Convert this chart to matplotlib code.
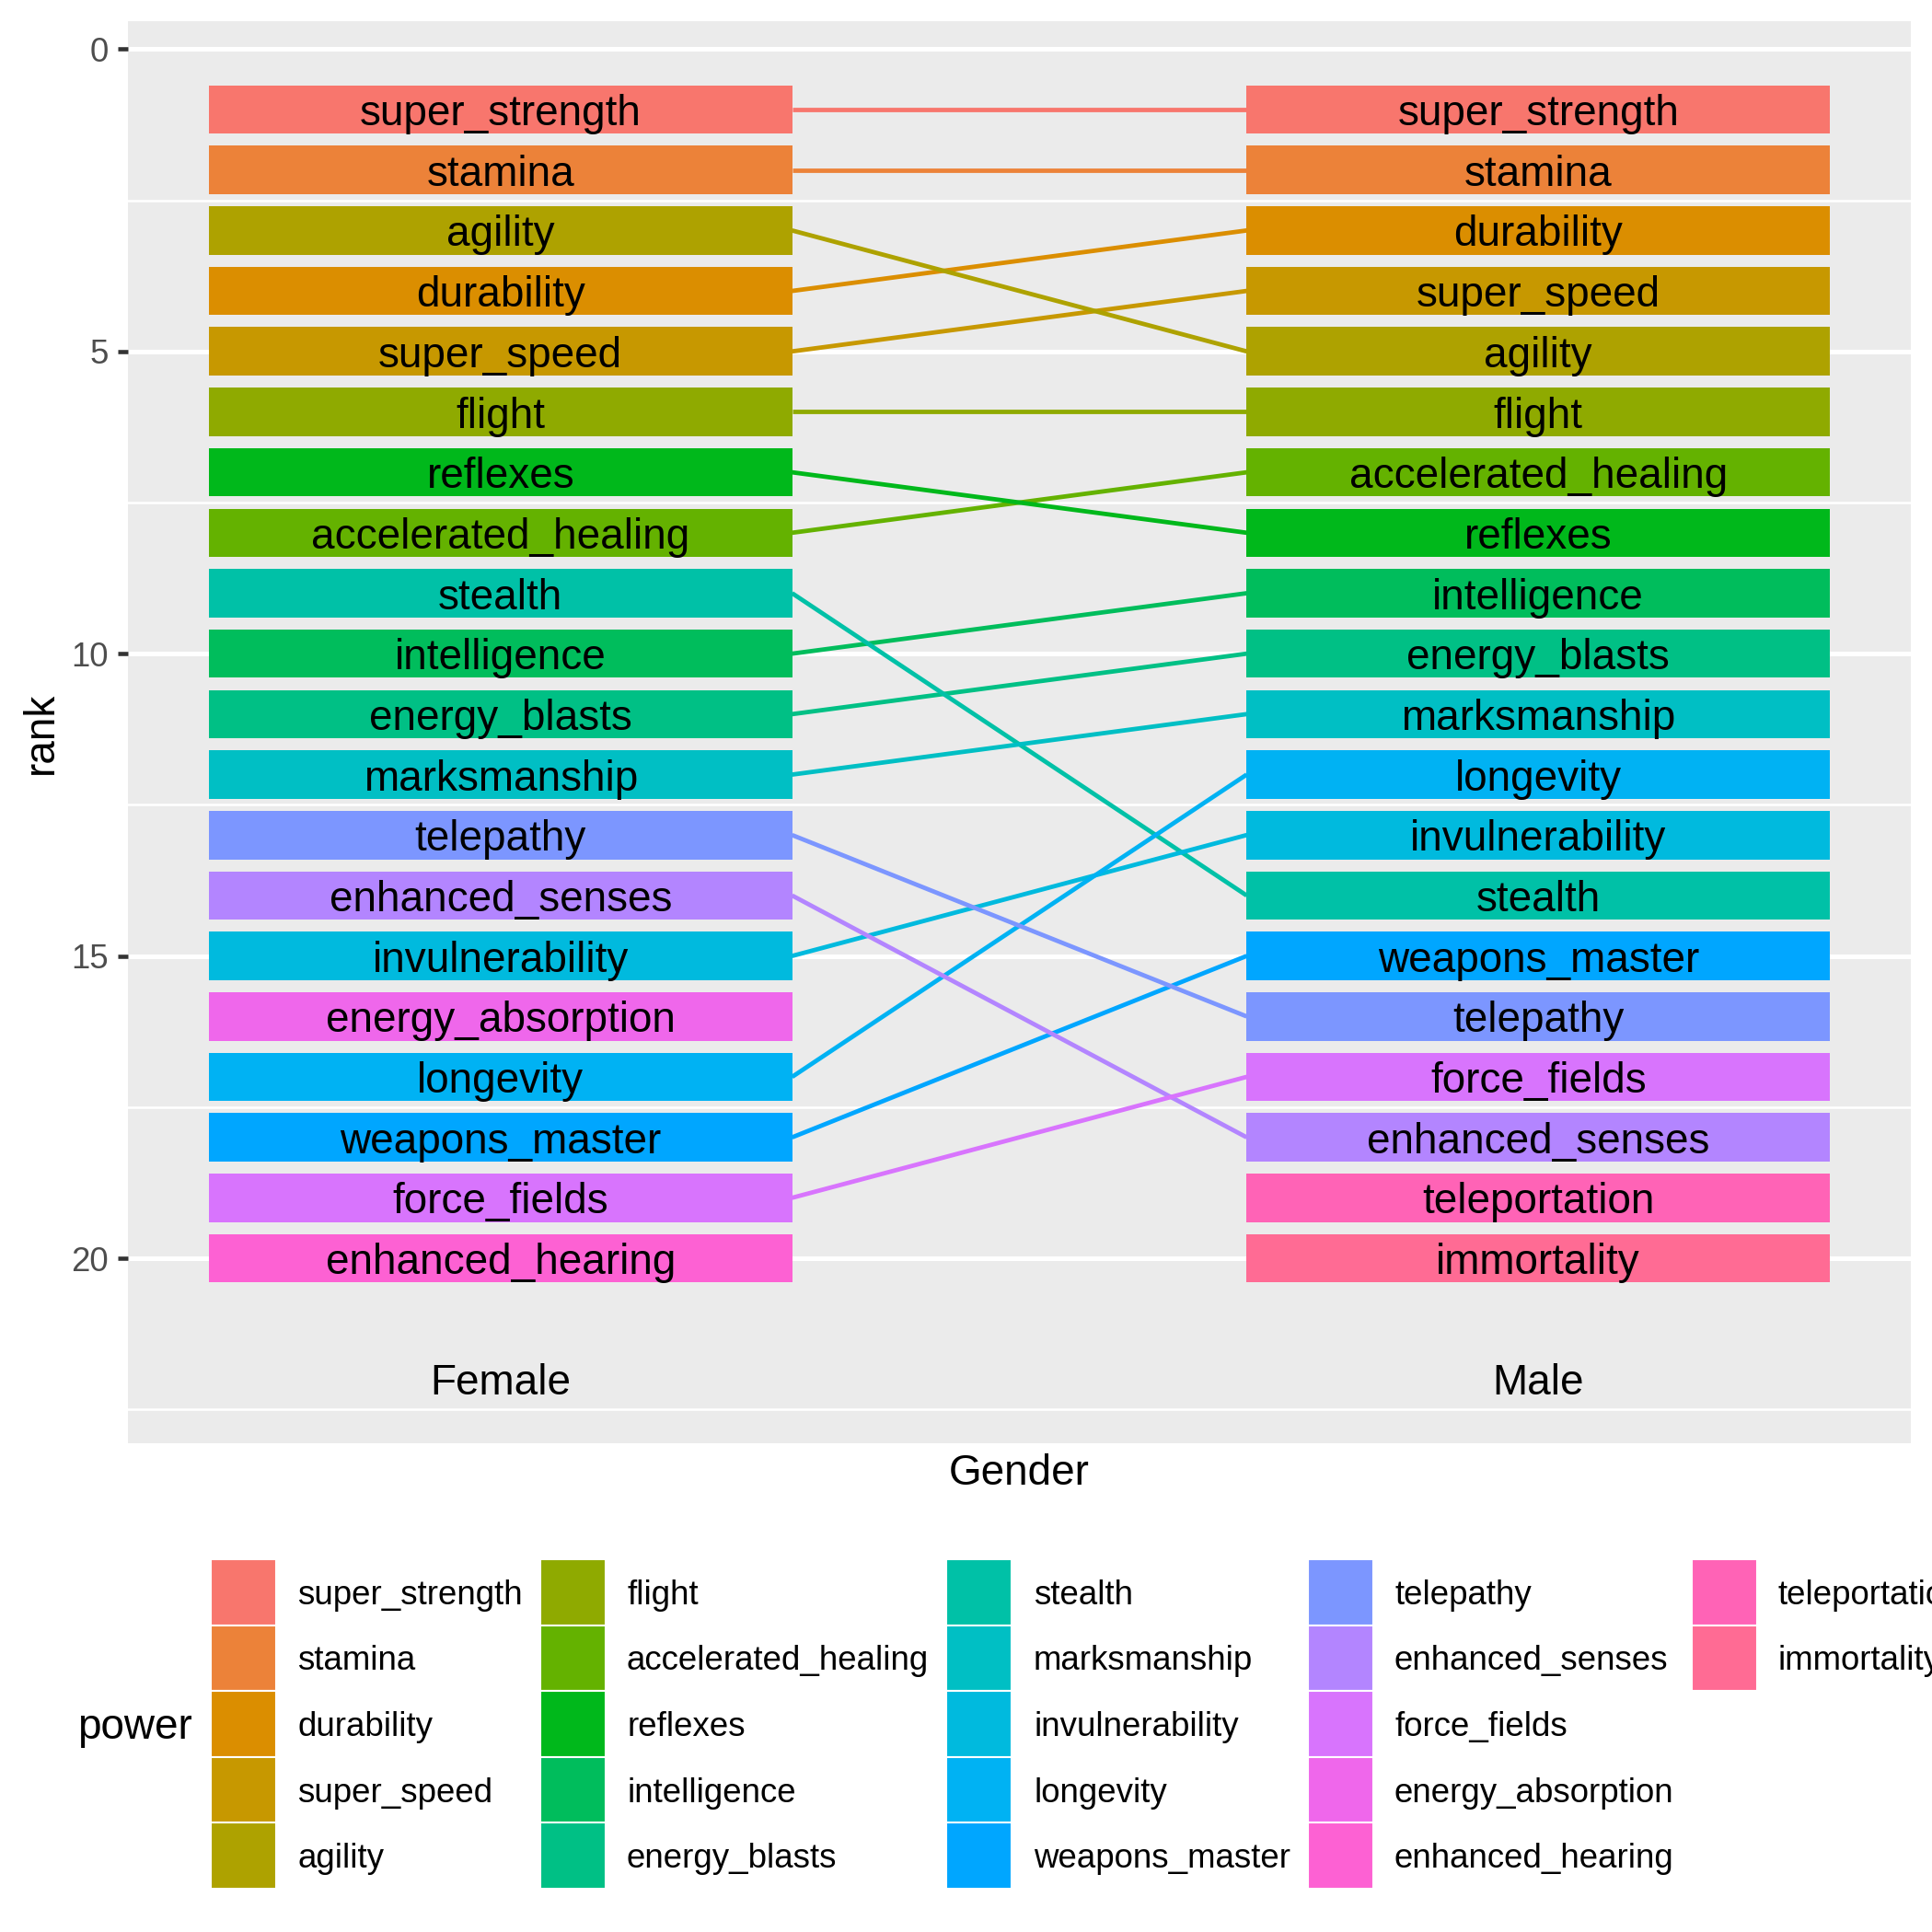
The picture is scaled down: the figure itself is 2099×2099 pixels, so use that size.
import math
import matplotlib
matplotlib.use("Agg")
import matplotlib.pyplot as plt
from matplotlib.patches import Rectangle

plt.rcParams['font.family'] = ['Liberation Sans', 'DejaVu Sans']

# ---------------- data ----------------
genders = ["Female", "Male"]
female_powers = ["super_strength", "stamina", "agility", "durability", "super_speed",
                 "flight", "reflexes", "accelerated_healing", "stealth", "intelligence",
                 "energy_blasts", "marksmanship", "telepathy", "enhanced_senses",
                 "invulnerability", "energy_absorption", "longevity", "weapons_master",
                 "force_fields", "enhanced_hearing"]
female_ranks = list(range(1, 21))
male_powers = ["super_strength", "stamina", "durability", "super_speed", "agility",
               "flight", "accelerated_healing", "reflexes", "intelligence", "energy_blasts",
               "marksmanship", "longevity", "invulnerability", "stealth", "weapons_master",
               "telepathy", "force_fields", "enhanced_senses", "teleportation", "immortality"]
male_ranks = list(range(1, 21))
# factor level order (legend order)
power_levels = ["super_strength", "stamina", "durability", "super_speed", "agility",
                "flight", "accelerated_healing", "reflexes", "intelligence", "energy_blasts",
                "stealth", "marksmanship", "invulnerability", "longevity", "weapons_master",
                "telepathy", "enhanced_senses", "force_fields", "energy_absorption",
                "enhanced_hearing", "teleportation", "immortality"]
y_ticks = [0, 5, 10, 15, 20]
label_rank = 22


# ---------------- ggplot hue palette ----------------
def hcl_hex(h, c=100.0, l=65.0):
    hr = math.radians(h)
    u = c * math.cos(hr)
    v = c * math.sin(hr)
    Y = ((l + 16.0) / 116.0) ** 3
    Xn, Yn, Zn = 0.95047, 1.0, 1.08883
    un = 4 * Xn / (Xn + 15 * Yn + 3 * Zn)
    vn = 9 * Yn / (Xn + 15 * Yn + 3 * Zn)
    up = u / (13 * l) + un
    vp = v / (13 * l) + vn
    X = Y * 9 * up / (4 * vp)
    Z = Y * (12 - 3 * up - 20 * vp) / (4 * vp)
    r = 3.2404542 * X - 1.5371385 * Y - 0.4985314 * Z
    g = -0.9692660 * X + 1.8760108 * Y + 0.0415560 * Z
    b = 0.0556434 * X - 0.2040259 * Y + 1.0572252 * Z

    def gam(t):
        t = 12.92 * t if t <= 0.0031308 else 1.055 * t ** (1 / 2.4) - 0.055
        return min(max(t, 0.0), 1.0)
    return "#%02X%02X%02X" % tuple(round(gam(t) * 255) for t in (r, g, b))


n = len(power_levels)
palette = {p: hcl_hex(15 + i * 360.0 / n) for i, p in enumerate(power_levels)}

# ---------------- figure ----------------
W = 2099
fig = plt.figure(figsize=(W / 300, W / 300), dpi=300)
fig.patch.set_facecolor("white")

px = lambda v: v / W
ax_left, ax_right, ax_top, ax_bot = 139, 2076, 23, 1568
ax = fig.add_axes([px(ax_left), 1 - px(ax_bot), px(ax_right - ax_left), px(ax_bot - ax_top)])
ax.set_facecolor("#EBEBEB")
ax.set_xlim(0.641, 2.359)
ax.set_ylim(23.06, -0.462)
for s in ax.spines.values():
    s.set_visible(False)

# grid
for yv in y_ticks:
    ax.axhline(yv, color="white", lw=1.2, zorder=0.5)
for yv in [2.5, 7.5, 12.5, 17.5, 22.5]:
    ax.axhline(yv, color="white", lw=0.6, zorder=0.5)

ax.set_xticks([])
ax.set_yticks(y_ticks)
ax.set_yticklabels([str(t) for t in y_ticks])
ax.tick_params(axis="y", length=2.75, width=1.1, color="#333333",
               labelsize=8.8, labelcolor="#4D4D4D", pad=2.4)

half_w = 0.281
bar_h = 0.8
text_off = 0.26

# connecting lines
fem = dict(zip(female_powers, female_ranks))
mal = dict(zip(male_powers, male_ranks))
for p in power_levels:
    if p in fem and p in mal:
        ax.plot([1 + half_w, 2 - half_w], [fem[p], mal[p]], color=palette[p],
                lw=1.15, solid_capstyle="butt", zorder=1)

# bars and labels
for xi, (plist, rlist) in enumerate([(female_powers, female_ranks), (male_powers, male_ranks)], start=1):
    ax.bar([xi] * len(plist), [bar_h] * len(plist), width=2 * half_w,
           bottom=[r - bar_h / 2 for r in rlist],
           color=[palette[p] for p in plist], linewidth=0, zorder=2)
    for p, r in zip(plist, rlist):
        ax.text(xi, r + text_off, p, ha="center", va="baseline", fontsize=11,
                color="black", zorder=3)
    ax.text(xi, label_rank + text_off, genders[xi - 1], ha="center", va="baseline",
            fontsize=11, color="black", zorder=3)

# overlay axes in pixel coordinates for titles and legend
ov = fig.add_axes([0, 0, 1, 1])
ov.set_xlim(0, W)
ov.set_ylim(W, 0)
ov.axis("off")
ov.patch.set_alpha(0)

ov.text((ax_left + ax_right) / 2, 1613, "Gender", ha="center", va="baseline", fontsize=11)
ov.text(57, 796, "rank", ha="center", va="baseline", rotation=90,
        fontsize=11, rotation_mode="anchor")

# legend
ov.text(84, 1889, "power", ha="left", va="baseline", fontsize=11)
key_x = [229, 587, 1028, 1421, 1838]
text_x = [323.5, 681, 1123, 1515, 1932]
key_top = 1694
key_size = 71.6
for i, p in enumerate(power_levels):
    col, row = divmod(i, 5)
    y0 = key_top + row * key_size
    ov.add_patch(Rectangle((key_x[col], y0), 71, key_size, facecolor=palette[p],
                           edgecolor="white", lw=0.5))
    ov.text(text_x[col], y0 + key_size / 2 + 13, p, ha="left", va="baseline",
            fontsize=8.8, color="black", clip_on=False)

fig.savefig("out.png", dpi=300)
